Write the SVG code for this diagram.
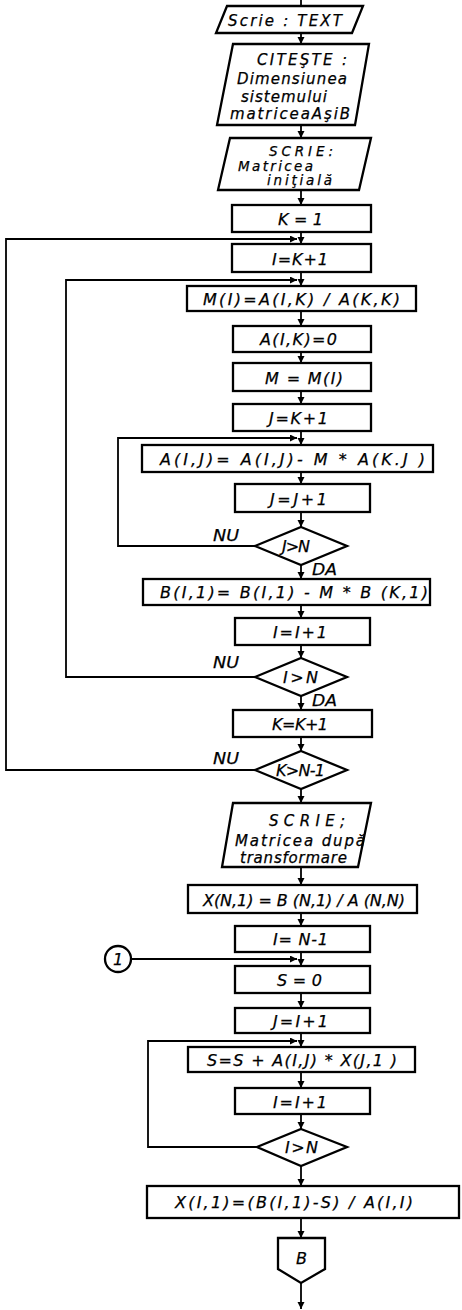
<svg xmlns="http://www.w3.org/2000/svg" width="462" height="1310" viewBox="0 0 462 1310">
<style>
.b{fill:#fff;stroke:#000;stroke-width:2.3;stroke-linejoin:miter}
.c{fill:none;stroke:#000;stroke-width:1.8}
text{font-family:"DejaVu Sans","Liberation Sans",sans-serif;font-style:italic;font-size:16px;fill:#000;stroke:#000;stroke-width:0.25}
.p{font-size:15px}
.s{font-size:13.5px}
</style>
<defs>
<marker id="ah" markerUnits="userSpaceOnUse" markerWidth="8" markerHeight="8" refX="7" refY="3.5" orient="auto">
<path d="M0,0 L7,3.5 L0,7 z" fill="#000"/>
</marker>
</defs>
<rect width="462" height="1310" fill="#fff"/>
<g id="connectors" class="c" marker-end="url(#ah)">
<path d="M301,0 V6" marker-end="none"/>
<path d="M301,33 V44"/>
<path d="M301,125 V138"/>
<path d="M301,190 V205"/>
<path d="M301,232 V244"/>
<path d="M301,272 V286"/>
<path d="M301,311 V326"/>
<path d="M301,352 V363"/>
<path d="M301,391 V404"/>
<path d="M301,431 V445"/>
<path d="M301,472 V484"/>
<path d="M301,512 V527"/>
<path d="M301,565 V579"/>
<path d="M301,605 V618"/>
<path d="M301,645 V658"/>
<path d="M301,696 V710"/>
<path d="M301,737 V751"/>
<path d="M301,789 V803"/>
<path d="M301,867 V885"/>
<path d="M301,913 V926"/>
<path d="M301,952 V966"/>
<path d="M301,993 V1008"/>
<path d="M301,1033 V1047"/>
<path d="M301,1072 V1088"/>
<path d="M301,1114 V1129"/>
<path d="M301,1166 V1186"/>
<path d="M301,1218 V1238"/>
<path d="M301,1283 V1309"/>
<path d="M255,770 H6 V239 H297"/>
<path d="M255,677 H66 V280 H297"/>
<path d="M255,546 H118 V438 H297"/>
<path d="M131,959 H297"/>
<path d="M257,1147 H148 V1041 H297"/>
</g>
<g id="labels">
<text x="213" y="541" textLength="26" lengthAdjust="spacingAndGlyphs">NU</text>
<text x="312" y="575" textLength="25" lengthAdjust="spacingAndGlyphs">DA</text>
<text x="213" y="668" textLength="26" lengthAdjust="spacingAndGlyphs">NU</text>
<text x="312" y="706" textLength="25" lengthAdjust="spacingAndGlyphs">DA</text>
<text x="213" y="764" textLength="26" lengthAdjust="spacingAndGlyphs">NU</text>
</g>
<g id="n_scrie_text">
<polygon class="b" points="227,6 363,6 352,33 216,33"/>
<text class="p" x="228" y="26" textLength="114">Scrie : TEXT</text>
</g>
<g id="n_citeste">
<polygon class="b" points="233,44 369,44 355,125 217,125"/>
<text class="p" x="257" y="65" textLength="90">CITEŞTE :</text>
<text class="p" x="237" y="84" textLength="110">Dimensiunea</text>
<text class="p" x="241" y="102" textLength="86">sistemului</text>
<text class="p" x="230" y="119" textLength="120">matriceaAşiB</text>
</g>
<g id="n_scrie_initiala">
<polygon class="b" points="230,138 371,138 359,190 218,190"/>
<text class="s" x="269" y="156" textLength="64">SCRIE:</text>
<text class="s" x="238" y="171" textLength="75">Matricea</text>
<text class="s" x="267" y="185" textLength="65">iniţială</text>
</g>
<g id="n_k1"><rect class="b" x="232" y="205" width="139" height="27"/><text x="278" y="225" textLength="45">K=1</text></g>
<g id="n_ik1"><rect class="b" x="232" y="244" width="139" height="28"/><text x="272" y="265" textLength="56">I=K+1</text></g>
<g id="n_mi"><rect class="b" x="187" y="286" width="229" height="25"/><text x="203" y="305" textLength="197">M(I)=A(I,K) / A(K,K)</text></g>
<g id="n_aik"><rect class="b" x="233" y="326" width="138" height="26"/><text x="260" y="345" textLength="77">A(I,K)=0</text></g>
<g id="n_m"><rect class="b" x="233" y="363" width="138" height="28"/><text x="265" y="384" textLength="78">M = M(I)</text></g>
<g id="n_jk1"><rect class="b" x="233" y="404" width="138" height="27"/><text x="269" y="424" textLength="59">J=K+1</text></g>
<g id="n_aij"><rect class="b" x="142" y="445" width="291" height="27"/><text x="160" y="465" textLength="265">A(I,J)= A(I,J)- M * A(K.J )</text></g>
<g id="n_jj1"><rect class="b" x="235" y="484" width="135" height="28"/><text x="270" y="505" textLength="57">J=J+1</text></g>
<g id="n_jn"><polygon class="b" points="301,527 347,546 301,565 255,546"/><text x="282" y="552" textLength="28">J&gt;N</text></g>
<g id="n_bi1"><rect class="b" x="143" y="579" width="287" height="26"/><text x="160" y="598" textLength="268">B(I,1)= B(I,1) - M * B (K,1)</text></g>
<g id="n_ii1a"><rect class="b" x="235" y="618" width="135" height="27"/><text x="273" y="638" textLength="54">I=I+1</text></g>
<g id="n_in1"><polygon class="b" points="301,658 347,677 301,696 255,677"/><text x="283" y="683" textLength="35">I&gt;N</text></g>
<g id="n_kk1"><rect class="b" x="233" y="710" width="139" height="27"/><text x="272" y="730" textLength="56">K=K+1</text></g>
<g id="n_kn1"><polygon class="b" points="301,751 347,770 301,789 255,770"/><text x="276" y="776" textLength="49">K&gt;N-1</text></g>
<g id="n_scrie_dupa">
<polygon class="b" points="233,803 371,803 358,867 222,867"/>
<text class="p" x="269" y="826" textLength="76">SCRIE;</text>
<text class="p" x="235" y="846" textLength="130">Matricea după</text>
<text class="p" x="240" y="863" textLength="107">transformare</text>
</g>
<g id="n_xn1"><rect class="b" x="188" y="885" width="229" height="28"/><text x="203" y="906" textLength="202">X(N,1) = B (N,1) / A (N,N)</text></g>
<g id="n_in_1"><rect class="b" x="235" y="926" width="135" height="26"/><text x="273" y="945" textLength="55">I= N-1</text></g>
<g id="n_conn1"><circle class="b" cx="118" cy="959" r="13"/><text x="118" y="965" text-anchor="middle">1</text></g>
<g id="n_s0"><rect class="b" x="235" y="966" width="135" height="27"/><text x="277" y="986" textLength="45">S = 0</text></g>
<g id="n_ji1"><rect class="b" x="235" y="1008" width="135" height="25"/><text x="273" y="1027" textLength="55">J = I + 1</text></g>
<g id="n_ss"><rect class="b" x="188" y="1047" width="227" height="25"/><text x="207" y="1066" textLength="190">S=S + A(I,J) * X(J,1 )</text></g>
<g id="n_ii1b"><rect class="b" x="235" y="1088" width="135" height="26"/><text x="273" y="1108" textLength="54">I = I + 1</text></g>
<g id="n_in2"><polygon class="b" points="301,1129 347,1147 301,1166 257,1147"/><text x="285" y="1153" textLength="33">I&gt;N</text></g>
<g id="n_xi1"><rect class="b" x="147" y="1186" width="312" height="32"/><text x="175" y="1208" textLength="238">X(I,1)=(B(I,1)-S) / A(I,I)</text></g>
<g id="n_b"><polygon class="b" points="278,1238 325,1238 325,1269 301,1283 278,1269"/><text x="296" y="1264" textLength="12">B</text></g>
</svg>
